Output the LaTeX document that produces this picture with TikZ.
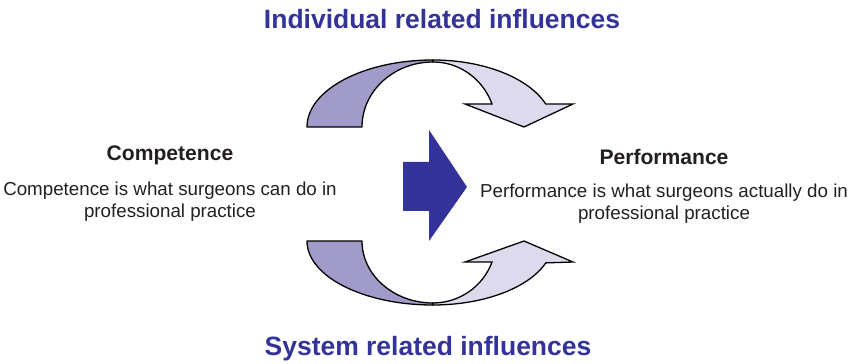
\documentclass[tikz,border=0pt]{standalone}
\usepackage{fontspec}
\setmainfont{Liberation Sans}
\definecolor{titleblue}{RGB}{51,51,153}
\definecolor{midpurple}{RGB}{161,155,201}
\definecolor{palepurple}{RGB}{220,218,236}
\definecolor{textgrey}{RGB}{35,31,32}
\begin{document}
\begin{tikzpicture}[x=0.03cm, y=0.03cm,
	curvedark/.style={fill=midpurple, draw=black, line width=1.1pt, line join=round},
	curvelight/.style={fill=palepurple, draw=black, line width=1.1pt, line join=miter},
	heading/.style={text=titleblue, font=\fontsize{22.6}{26}\selectfont\bfseries},
	subheading/.style={text=textgrey, font=\fontsize{18}{21}\selectfont\bfseries},
	body/.style={text=textgrey, align=center, font=\fontsize{16}{19}\selectfont}]
	\useasboundingbox (0, 0) rectangle (852, 363);
	\begin{scope}
	\draw[curvedark] (307, 236) arc[start angle=180, end angle=90, x radius=126, y radius=67]
		-- (433, 301) arc[start angle=90, end angle=180, x radius=71, y radius=65] -- cycle;
	\draw[curvelight] (433, 303) arc[start angle=90, end angle=20, x radius=120, y radius=67]
		-- (573, 259) -- (524, 236) -- (465, 259) -- (492, 259)
		arc[start angle=20.7, end angle=90, x radius=63, y radius=65] -- cycle;
	\end{scope}
	\begin{scope}
	\draw[curvedark] (307, 122) arc[start angle=180, end angle=270, x radius=126, y radius=64]
		-- (433, 60) arc[start angle=270, end angle=180, x radius=71, y radius=62] -- cycle;
	\draw[curvelight] (433, 58) arc[start angle=270, end angle=340, x radius=120, y radius=64]
		-- (573, 101) -- (524, 122) -- (465, 101) -- (492, 101)
		arc[start angle=-19.8, end angle=-90, x radius=63, y radius=62] -- cycle;
	\end{scope}
	\fill[titleblue] (403, 152) -- (403, 201) -- (429, 201) -- (429, 233) -- (467, 176)
		-- (429, 122) -- (429, 152) -- cycle;
	\node[heading] (indiv) at (442, 344) {Individual related influences};
	\node[heading] (system) at (428, 14) {System related influences};
	\node[subheading] (comp) at (170, 208) {Competence};
	\node[body] (compdef) at (170, 161) {Competence is what surgeons can do in\\professional practice};
	\node[subheading] (perf) at (664, 206) {Performance};
	\node[body] (perfdef) at (664, 159) {Performance is what surgeons actually do in\\professional practice};
\end{tikzpicture}
\end{document}
